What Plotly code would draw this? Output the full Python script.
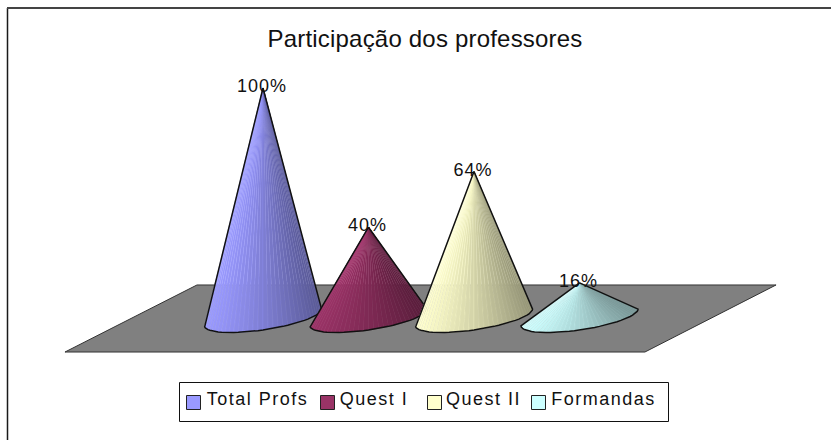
import math
import plotly.graph_objects as go

# Data
categories = ["Total Profs", "Quest I", "Quest II", "Formandas"]
values = [100, 40, 64, 16]
colors = ["#9999FF", "#993366", "#FFFFCC", "#CCFFFF"]
title_text = "Participação dos professores"

# Chart geometry
W, H = 831, 440
PX_PER_CAT, PX_PER_PCT = 105.5, 2.32
X0_PX, Y0_PX = 263, 320
HALF_W = 0.555
TILT = 3.6
BASE_Y = 1.1
BASE_B = 5.4
N = 36
floor_x = [-1.877, 3.62, 4.863, -0.626, -1.877]
floor_y = [-13.8, -13.8, 15.1, 15.1, -13.8]

def shade(hex_c, f):
    r, g, b = [min(255, int(hex_c[i:i + 2], 16) * f) for i in (1, 3, 5)]
    return f"rgb({int(r)},{int(g)},{int(b)})"

def base_pt(i, t):
    return (i + HALF_W * math.cos(t), BASE_Y + TILT * math.cos(t) - BASE_B * math.sin(t))

fig = go.Figure()
fig.add_trace(go.Scatter(x=floor_x, y=floor_y, mode="lines", fill="toself", fillcolor="#808080",
                         line=dict(color="#333333", width=1), showlegend=False, hoverinfo="skip"))

for i, (name, v, c) in enumerate(zip(categories, values, colors)):
    pts = [base_pt(i, math.pi - math.pi * k / N) for k in range(N + 1)]
    for k in range(N):
        frac = (pts[k][0] - (i - HALF_W)) / (2 * HALF_W)
        f = 1.0 - 0.42 * frac ** 1.2
        fig.add_trace(go.Scatter(
            x=[i, pts[k][0], pts[k + 1][0], i], y=[v, pts[k][1], pts[k + 1][1], v],
            mode="lines", fill="toself", fillcolor=shade(c, f),
            line=dict(color=shade(c, f * 1.12), width=0.4),
            showlegend=False, hoverinfo="skip"))
    fig.add_trace(go.Scatter(
        x=[i] + [p[0] for p in pts] + [i], y=[v] + [p[1] for p in pts] + [v],
        mode="lines", line=dict(color="#111111", width=1.5), name=name,
        showlegend=False, hoverinfo="skip"))

fig.add_trace(go.Scatter(
    x=[i - 0.01 for i in range(4)], y=[v + 0.1 for v in values], mode="text",
    text=[f"{v}%" for v in values], textposition="middle center",
    textfont=dict(family="Liberation Sans", size=18, color="#111111"),
    showlegend=False, hoverinfo="skip"))

shapes = [dict(type="line", xref="paper", yref="paper", x0=7.5 / W, x1=7.5 / W, y0=0, y1=1 - 8 / H,
               line=dict(color="#1a1a1a", width=1.5)),
          dict(type="line", xref="paper", yref="paper", x0=7 / W, x1=1, y0=1 - 8 / H, y1=1 - 8 / H,
               line=dict(color="#444444", width=2)),
          dict(type="rect", xref="paper", yref="paper", x0=179.5 / W, x1=668.5 / W,
               y0=1 - 421.5 / H, y1=1 - 382.5 / H, line=dict(color="#111111", width=1), fillcolor="white")]
annotations = []
swatch_px = [186, 320, 427, 531]
label_center_px = [257.5, 374, 483.5, 603]
for c, name, sx, lx in zip(colors, categories, swatch_px, label_center_px):
    shapes.append(dict(type="rect", xref="paper", yref="paper", x0=(sx + 0.5) / W, x1=(sx + 14.5) / W,
                       y0=1 - 409.5 / H, y1=1 - 395.5 / H, fillcolor=c, line=dict(color="#222222", width=1)))
    annotations.append(dict(xref="paper", yref="paper", x=lx / W, y=1 - 399 / H, text=name, showarrow=False,
                            xanchor="center", yanchor="middle",
                            font=dict(family="Liberation Sans", size=18, color="#111111")))

fig.update_layout(
    width=W, height=H, margin=dict(l=0, r=0, t=0, b=0), paper_bgcolor="white", plot_bgcolor="white",
    title=dict(text=title_text, x=425 / W, y=1 - 39 / H, xanchor="center", yanchor="middle",
               font=dict(family="Liberation Sans", size=24, color="#111111")),
    xaxis=dict(range=[-X0_PX / PX_PER_CAT, (W - X0_PX) / PX_PER_CAT], visible=False, fixedrange=True),
    yaxis=dict(range=[(Y0_PX - H) / PX_PER_PCT, Y0_PX / PX_PER_PCT], visible=False, fixedrange=True),
    shapes=shapes, annotations=annotations, showlegend=False,
)
post = """
document.body.style.margin='0';document.body.style.overflow='hidden';
document.querySelectorAll('.annotation-text').forEach(function(t){t.style.letterSpacing='1.5px';});
document.querySelectorAll('.textpoint text').forEach(function(t){t.style.letterSpacing='1px';});
document.querySelectorAll('.gtitle').forEach(function(t){t.style.letterSpacing='0.2px';});
"""
fig.write_html("out.html", config={"displayModeBar": False}, post_script=post)
